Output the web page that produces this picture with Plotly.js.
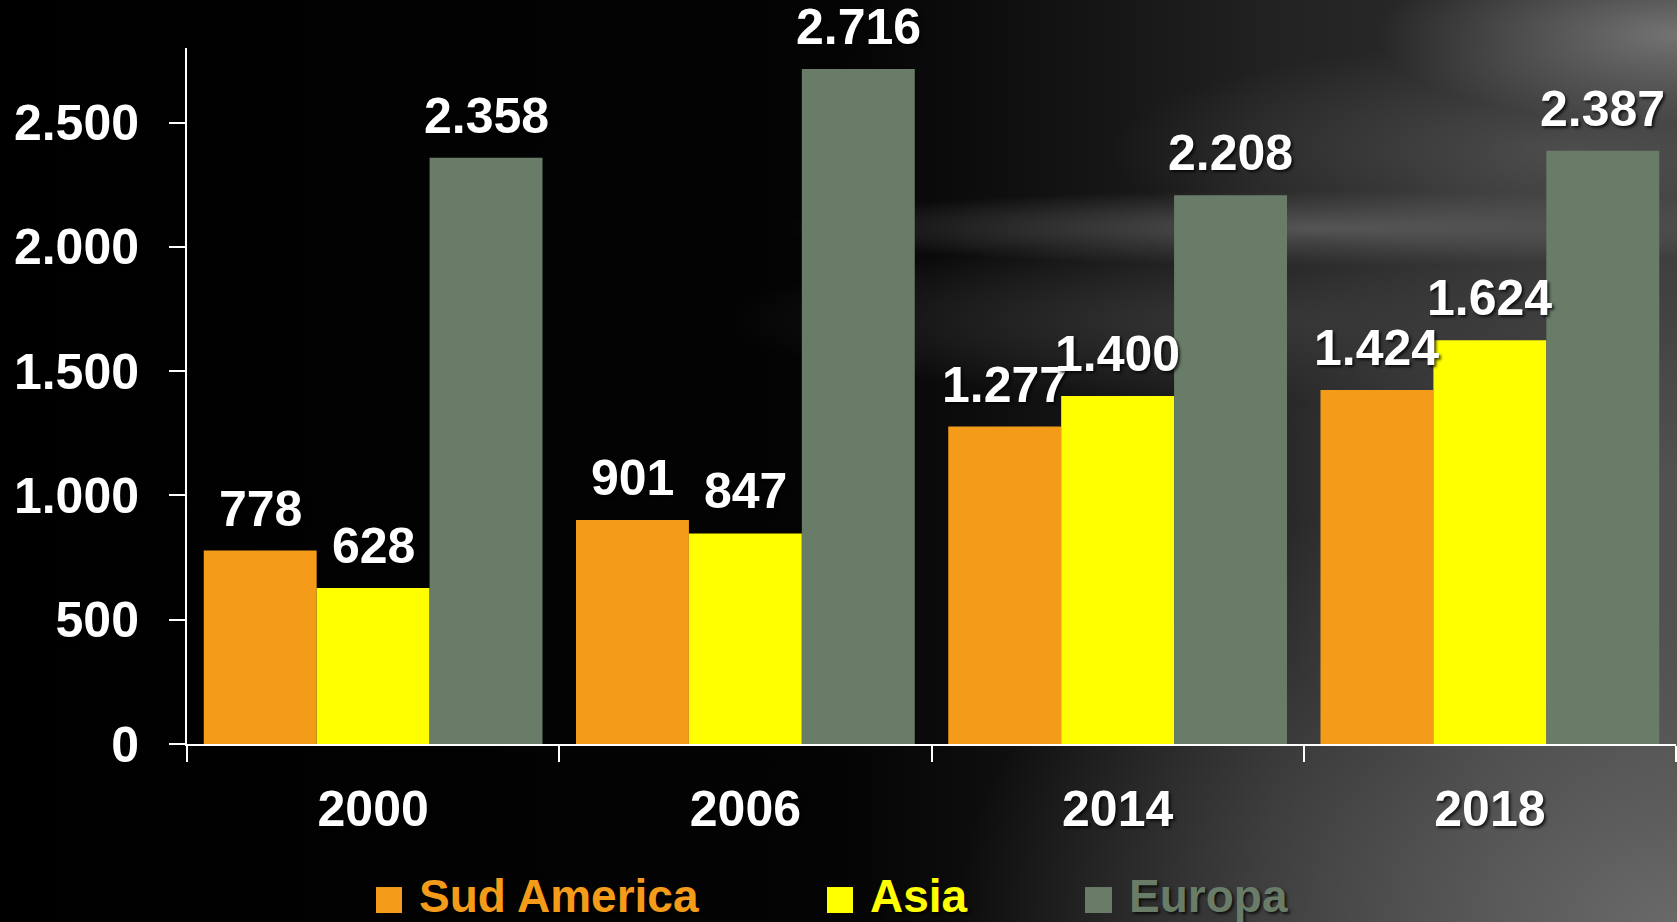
<!DOCTYPE html>
<html>
<head>
<meta charset="utf-8">
<script src="https://cdn.plot.ly/plotly-3.0.1.min.js"></script>
<style>
  html, body { margin: 0; padding: 0; width: 1677px; height: 922px; overflow: hidden; }
  body {
    background:
      radial-gradient(ellipse 300px 90px at 1677px 35px, rgba(150,150,150,0.65), rgba(150,150,150,0) 100%),
      radial-gradient(ellipse 460px 110px at 1570px 150px, rgba(105,105,105,0.5), rgba(105,105,105,0) 100%),
      radial-gradient(ellipse 540px 38px at 1320px 228px, rgba(105,105,105,0.7), rgba(105,105,105,0) 100%),
      radial-gradient(ellipse 520px 80px at 1250px 320px, rgba(62,62,62,0.75), rgba(62,62,62,0) 100%),
      radial-gradient(ellipse 720px 470px at 1677px 922px, rgba(108,108,108,0.95), rgba(108,108,108,0) 100%),
      radial-gradient(ellipse 460px 360px at 1677px 470px, rgba(88,88,88,0.8), rgba(88,88,88,0) 100%),
      linear-gradient(to right, #000 0%, #040404 50%, #111 62%, #222 76%, #333 100%);
  }
  #chart { width: 1677px; height: 922px; }
</style>
</head>
<body>
<div id="chart"></div>
<script>
const years = ['2000', '2006', '2014', '2018'];
const seriesNames = ['Sud America', 'Asia', 'Europa'];
const sudAmerica = [778, 901, 1277, 1424];
const asia = [628, 847, 1400, 1624];
const europa = [2358, 2716, 2208, 2387];
const seriesColors = ['#F49B19', '#FFFF00', '#687C68'];
const yTicks = [0, 500, 1000, 1500, 2000, 2500];

const FONT = '"Liberation Sans", Arial, sans-serif';
const shadow = '2px 2px 3px rgba(0,0,0,0.75)';
const seriesValues = [sudAmerica, asia, europa];
const BARGAP = 0.09;

function fmt(v) { return String(v).replace(/\B(?=(\d{3})+(?!\d))/g, '.'); }

const traces = seriesValues.map((vals, i) => ({
  type: 'bar',
  name: seriesNames[i],
  x: years,
  y: vals,
  marker: { color: seriesColors[i], line: { width: 0 } },
  showlegend: false,
  hoverinfo: 'x+y+name'
}));

// value labels above each bar, placed on the axes (category index + group offset)
const nSeries = seriesValues.length;
const barW = (1 - BARGAP) / nSeries;
const valueLabels = [];
seriesValues.forEach((vals, i) => {
  vals.forEach((v, j) => {
    valueLabels.push({
      xref: 'x', yref: 'y',
      x: j + (i - (nSeries - 1) / 2) * barW,
      y: v,
      xanchor: 'center', yanchor: 'bottom', yshift: 12,
      showarrow: false,
      text: fmt(v),
      font: { family: FONT, size: 50, color: '#FFFFFF', weight: 'bold', shadow: shadow }
    });
  });
});

// legend drawn as coloured squares + coloured names below the axis
const legendSquareX = [[0.12693, 0.14439], [0.42982, 0.44728], [0.60309, 0.62122]];
const legendTextX = [0.1545, 0.4573, 0.6313];
const shapes = seriesNames.map((n, i) => ({
  type: 'rect', xref: 'paper', yref: 'paper',
  x0: legendSquareX[i][0], x1: legendSquareX[i][1],
  y0: -0.2055, y1: -0.2428,
  fillcolor: seriesColors[i], line: { width: 0 }
}));
const legendLabels = seriesNames.map((n, i) => ({
  xref: 'paper', yref: 'paper',
  x: legendTextX[i], y: -0.2588,
  xanchor: 'left', yanchor: 'bottom',
  showarrow: false,
  text: n,
  font: { family: FONT, size: 46, color: seriesColors[i], weight: 'bold', shadow: shadow }
}));

const layout = {
  width: 1677, height: 922,
  margin: { l: 187, r: 1, t: 48, b: 178, pad: 0 },
  paper_bgcolor: 'rgba(0,0,0,0)',
  plot_bgcolor: 'rgba(0,0,0,0)',
  separators: ',.',
  barmode: 'group',
  bargap: BARGAP,
  bargroupgap: 0,
  showlegend: false,
  xaxis: {
    type: 'category',
    showgrid: false, zeroline: false,
    showline: true, linecolor: '#FFFFFF', linewidth: 2,
    ticks: 'outside', tickson: 'boundaries', ticklen: 16, tickwidth: 2, tickcolor: '#FFFFFF',
    tickfont: { family: FONT, size: 50, color: '#FFFFFF', weight: 'bold', shadow: shadow },
    ticklabelstandoff: 20
  },
  yaxis: {
    range: [0, 2800],
    tickvals: yTicks,
    tickformat: ',d',
    showgrid: false, zeroline: false,
    showline: true, linecolor: '#FFFFFF', linewidth: 2,
    ticks: 'outside', ticklen: 16, tickwidth: 2, tickcolor: '#FFFFFF',
    tickfont: { family: FONT, size: 50, color: '#FFFFFF', weight: 'bold', shadow: shadow },
    ticklabelstandoff: 20
  },
  shapes: shapes,
  annotations: valueLabels.concat(legendLabels)
};

Plotly.newPlot('chart', traces, layout, { displayModeBar: false, staticPlot: true });
</script>
</body>
</html>
